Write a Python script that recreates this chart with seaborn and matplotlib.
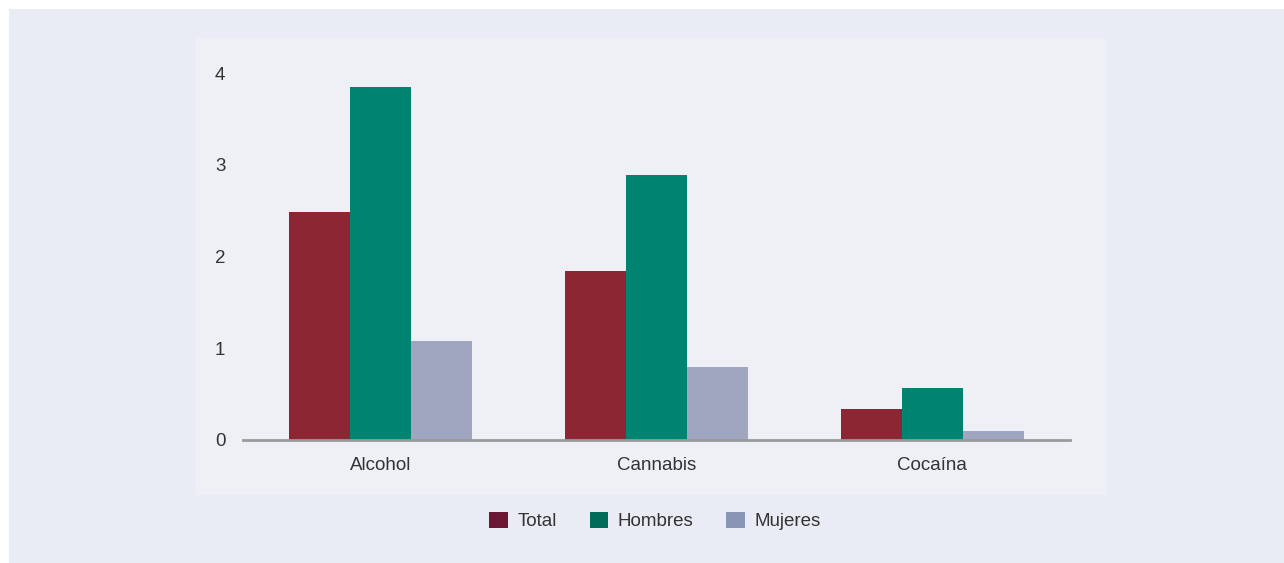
import pandas as pd
import matplotlib.pyplot as plt
import seaborn as sns
from matplotlib.patches import Rectangle, Patch

# datos
sustancias = ["Alcohol", "Cannabis", "Cocaína"]
grupos = ["Total", "Hombres", "Mujeres"]
total = [2.48, 1.84, 0.34]
hombres = [3.85, 2.89, 0.57]
mujeres = [1.08, 0.80, 0.10]

colores_barras = ["#8c2633", "#008471", "#a0a6c0"]
colores_leyenda = ["#6b1733", "#006c5a", "#8a95b6"]

df = pd.DataFrame({
    "sustancia": sustancias * 3,
    "grupo": [g for g in grupos for _ in sustancias],
    "valor": total + hombres + mujeres,
})

sns.set_style("white")
plt.rcParams["font.family"] = ["Liberation Sans", "DejaVu Sans"]

fig = plt.figure(figsize=(12.84, 5.63), dpi=100)
fig.patch.set_facecolor("white")

# fondos
fig.patches.append(Rectangle((9 / 1284, 0), 1, 1 - 9 / 563, transform=fig.transFigure,
                             facecolor="#e9ecf4", edgecolor="none", zorder=-3))
fig.patches.append(Rectangle((196 / 1284, 1 - 495 / 563), 910 / 1284, 457 / 563,
                             transform=fig.transFigure, facecolor="#eef0f5",
                             edgecolor="none", zorder=-2))

ax = fig.add_axes([243 / 1284, 123 / 563, 827 / 1284, 367 / 563])
ax.set_facecolor("none")

sns.barplot(data=df, x="sustancia", y="valor", hue="grupo", hue_order=grupos,
            palette=colores_barras, width=0.665, saturation=1, legend=False,
            edgecolor="none", linewidth=0, ax=ax)

ax.set_xlim(-0.5, 2.5)
ax.set_ylim(0, 4)
ax.set_yticks([0, 1, 2, 3, 4])
ax.set_xlabel("")
ax.set_ylabel("")
sns.despine(ax=ax, left=True)
ax.spines["bottom"].set_color("#9a9a9a")
ax.spines["bottom"].set_linewidth(2)
ax.tick_params(axis="both", length=0, labelsize=13.5, labelcolor="#333333")
ax.tick_params(axis="x", pad=12.5)
for lbl in ax.get_yticklabels():
    lbl.set_horizontalalignment("center")
ax.tick_params(axis="y", pad=16.5)

handles = [Patch(facecolor=c, edgecolor="none") for c in colores_leyenda]
fig.legend(handles, grupos, loc="center", bbox_to_anchor=(655 / 1284, 1 - 521 / 563),
           ncol=3, frameon=False, fontsize=13.5, handlelength=1.0, handleheight=1.0,
           handletextpad=0.5, columnspacing=1.75, labelcolor="#333333")

fig.savefig("out.png", dpi=100, facecolor=fig.get_facecolor())
